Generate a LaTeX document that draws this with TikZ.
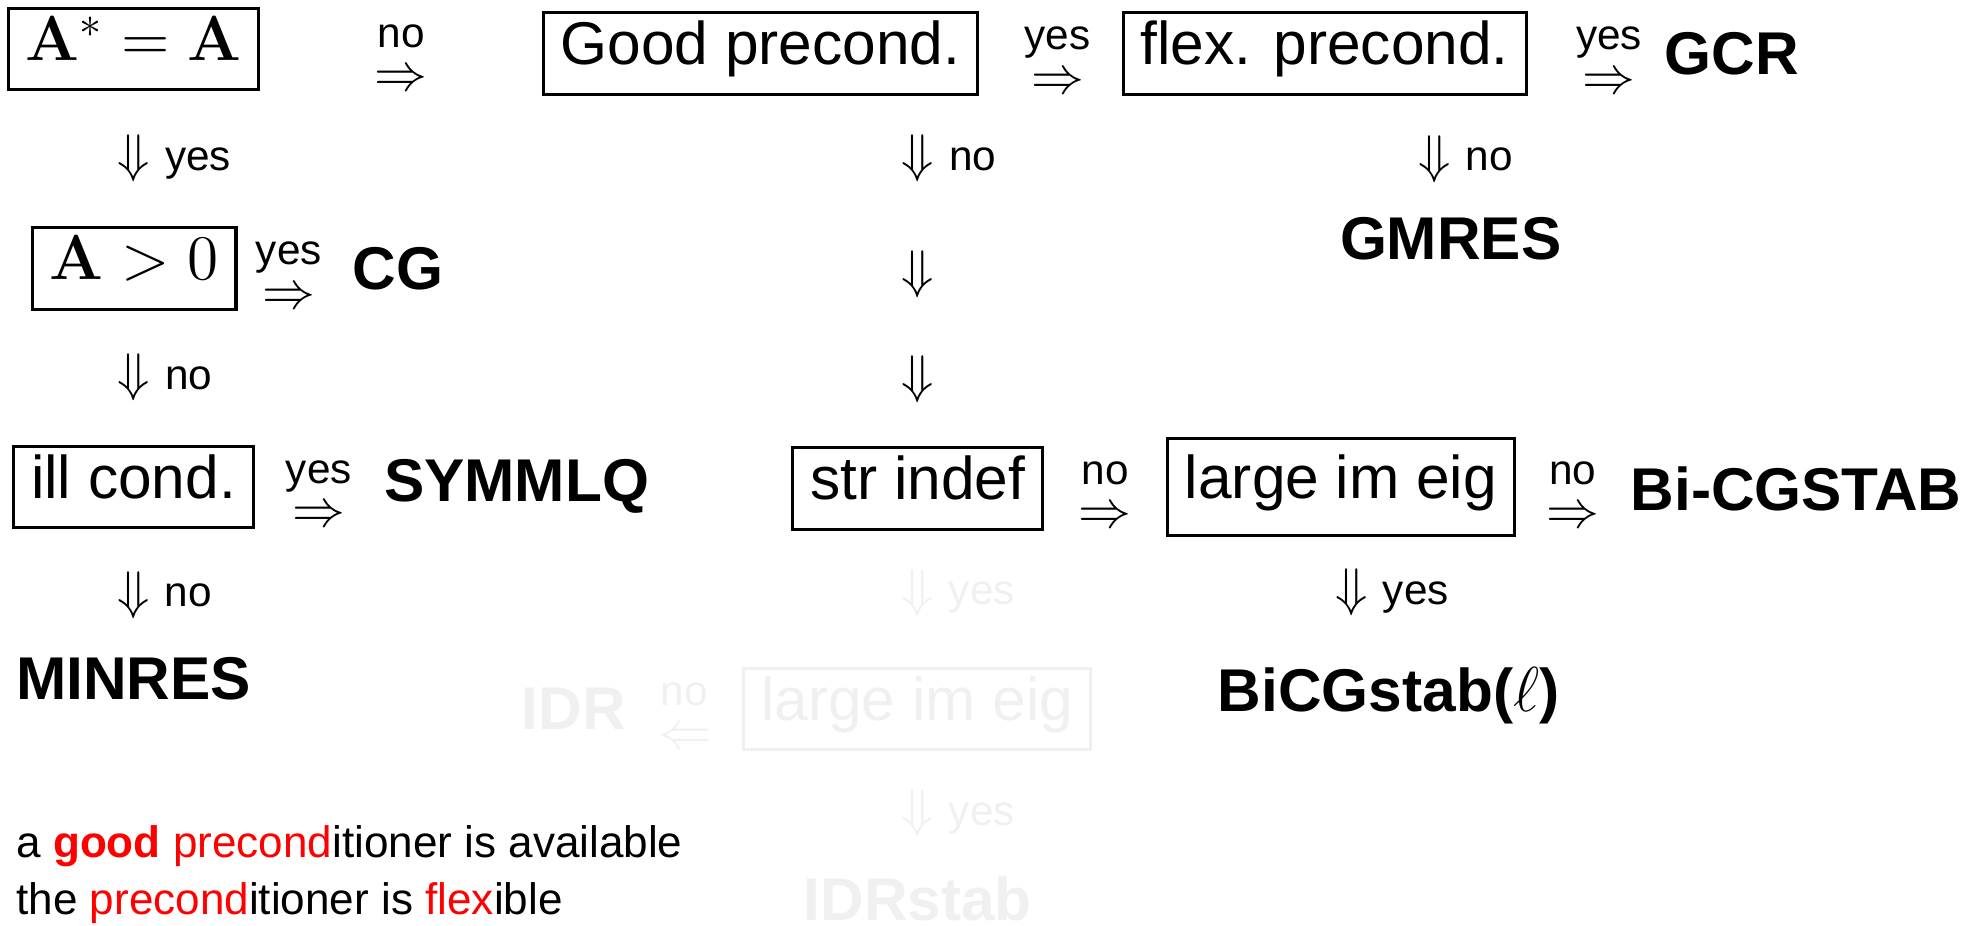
\documentclass[tikz,border=0pt]{standalone}
\usepackage{amsmath,bm}
\usepackage[no-math]{fontspec}
\setmainfont{Liberation Sans}
\usepackage{tikz}
\definecolor{faded}{gray}{0.94}

\begin{document}
\begin{tikzpicture}[x=1cm,y=-1cm,semithick]
  \tikzstyle{test}=[draw,line width=0.7pt,inner xsep=0.14cm,inner ysep=0.1cm,text height=0.73em,text depth=0.21em,minimum height=0.65cm,font=\fontsize{13.7}{16}\selectfont]
  \tikzstyle{method}=[inner sep=0pt,font=\fontsize{13.7}{16}\selectfont\bfseries]
  \tikzstyle{ans}=[inner sep=0pt,text height=1ex,text depth=0pt,font=\fontsize{9.6}{10}\selectfont]
  \tikzstyle{over}=[ans,yshift=0.17cm]
  \tikzstyle{side}=[ans,xshift=0.1cm]
  \tikzstyle{rimp}=[inner sep=0pt,yshift=-0.24cm,font=\fontsize{12}{12}\selectfont]
  \tikzstyle{dimp}=[inner sep=0pt,font=\fontsize{12}{12}\selectfont]
  \tikzstyle{legend}=[anchor=west,inner sep=0pt,font=\fontsize{10}{12}\selectfont]

  \useasboundingbox (0,0) rectangle (15.68,7.38);

  \node[test]                  (aeqa)  at (1.065,0.39)  {$\mathbf{A}^*=\mathbf{A}$};
  \node[test]                  (good)  at (6.065,0.425) {Good precond.};
  \node[test]                  (flex)  at (10.565,0.425) {flex. precond.};
  \node[method]                (gcr)   at (13.81,0.425) {GCR};
  \node[method]                (gmres) at (11.57,1.90)  {GMRES};
  \node[test]                  (apos)  at (1.07,2.14)   {$\mathbf{A}>0$};
  \node[method]                (cg)    at (3.175,2.14)  {CG};
  \node[test]                  (ill)   at (1.065,3.885) {ill cond.};
  \node[method]                (symm)  at (4.12,3.88)   {SYMMLQ};
  \node[test]                  (sind)  at (7.32,3.895)  {str indef};
  \node[test,minimum height=0.77cm] (large) at (10.695,3.885) {large im eig};
  \node[method]                (bicgs) at (14.325,3.90) {Bi-CGSTAB};
  \node[method]                (minres) at (1.065,5.41) {MINRES};
  \node[method]                (bicgl) at (11.075,5.55) {BiCGstab($\ell$)};
  \node[test,draw=faded,text=faded] (flarge) at (7.315,5.655) {large im eig};
  \node[method,text=faded]     (idr)   at (4.575,5.65)  {IDR};
  \node[method,text=faded]     (idrs)  at (7.32,7.17)   {IDRstab};

  \path (aeqa) -- node[rimp,label={[over]above:no}] {$\Rightarrow$} (good)
        (good) -- node[rimp,pos=0.55,label={[over]above:yes}] {$\Rightarrow$} (flex)
        (flex) -- node[rimp,pos=0.6,label={[over]above:yes}] {$\Rightarrow$} (gcr)
        (apos) -- node[rimp,pos=0.45,label={[over]above:yes}] {$\Rightarrow$} (cg)
        (ill) -- node[rimp,label={[over]above:yes}] {$\Rightarrow$} (symm)
        (sind) -- node[rimp,label={[over]above:no}] {$\Rightarrow$} (large)
        (large) -- node[rimp,label={[over]above:no}] {$\Rightarrow$} (bicgs)
        (flarge) -- node[rimp,text=faded,label={[over,text=faded]above:no}] {$\Leftarrow$} (idr);

  \path (aeqa) -- node[dimp,label={[side]right:yes}] {$\Downarrow$} (apos)
        (apos) -- node[dimp,label={[side]right:no}] {$\Downarrow$} (ill)
        (ill) -- node[dimp,pos=0.52,label={[side]right:no}] {$\Downarrow$} (minres)
        (good.south -| sind.north) -- node[dimp,pos=0.18,label={[side]right:no}] {$\Downarrow$}
                                      node[dimp,pos=0.51] {$\Downarrow$}
                                      node[dimp,pos=0.81] {$\Downarrow$} (sind.north)
        (flex.south -| gmres.north) -- node[dimp,pos=0.53,xshift=-0.13cm,label={[side]right:no}] {$\Downarrow$} (gmres.north)
        (large.south) -- node[dimp,pos=0.43,xshift=0.085cm,label={[side]right:yes}] {$\Downarrow$} (large.south |- bicgl.north)
        (sind) -- node[dimp,pos=0.46,text=faded,label={[side,text=faded]right:yes}] {$\Downarrow$} (flarge)
        (flarge) -- node[dimp,text=faded,label={[side,text=faded]right:yes}] {$\Downarrow$} (idrs);

  \node[legend] (avail) at (0.12,6.75) {a \textcolor{red}{\textbf{good}} \textcolor{red}{precond}itioner is available};
  \node[legend] (flexi) at (0.12,7.20) {the \textcolor{red}{precond}itioner is \textcolor{red}{flex}ible};
\end{tikzpicture}
\end{document}
